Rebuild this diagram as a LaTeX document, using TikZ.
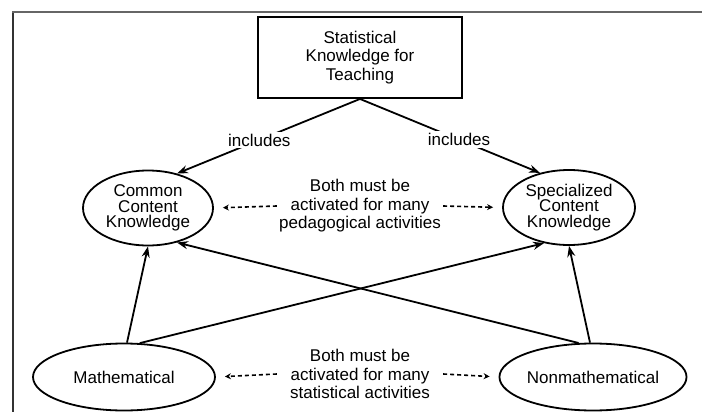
\documentclass[tikz,border=0pt]{standalone}
\usepackage{fontspec}
\setmainfont{Liberation Sans}
\usetikzlibrary{shapes.geometric,arrows.meta}
\begin{document}
\begin{tikzpicture}[x=1pt,y=-1pt,
	every node/.style={font=\fontsize{17}{18.5}\selectfont, align=center},
	kbox/.style={draw, rectangle, line width=1.9pt, minimum width=204pt, minimum height=81pt},
	kcircle/.style={draw, ellipse, line width=1.8pt, inner sep=0pt, font=\fontsize{17}{15.5}\selectfont},
	arr/.style={-{Stealth[length=11pt,width=8pt]}, line width=1.8pt},
	darr/.style={-{Stealth[length=6pt,width=6pt]}, line width=1.6pt, dash pattern=on 4pt off 3pt, shorten >=9pt}]
			\useasboundingbox (0,0) rectangle (702,412);
			\draw[line width=1.4pt, black!80] (13,412) -- (13,12);
			\draw[line width=1.6pt, black!60] (12.3,12) -- (702,12);
			\node	(skt) at (360,57.5) [kbox] {Statistical\\Knowledge for\\Teaching};
			\node	(cck) at (148,208) [kcircle, minimum width=130pt, minimum height=75pt] {Common\\Content\\Knowledge};
			\node	(sck) at (569,207.5) [kcircle, minimum width=132pt, minimum height=75pt] {Specialized\\Content\\Knowledge};
			\node	(math) at (124,377) [kcircle, minimum width=182pt, minimum height=67pt] {Mathematical};
			\node	(nonmath) at (593,377) [kcircle, minimum width=181pt, minimum height=67pt] {Nonmathematical};
			\node	(ped) at (360,206) [minimum width=166pt, inner sep=0pt] {Both must be\\activated for many\\pedagogical activities};
			\node	(stat) at (360,374) [minimum width=166pt, inner sep=0pt] {Both must be\\activated for many\\statistical activities};
			\draw 
			(skt.south) edge[arr] node[pos=0.55, fill=white, inner sep=2pt] {includes} (cck.50)
			(skt.south) edge[arr] node[pos=0.55, fill=white, inner sep=2pt] {includes} (sck.130)
			(math.85) edge[arr] (cck.south)
			(math.65) edge[arr] (sck.235)
			(nonmath.113) edge[arr] (cck.-50)
			(nonmath.95) edge[arr] (sck.south)
			(ped.west) edge[darr] (cck.east)
			(ped.east) edge[darr] (sck.west)
			(stat.west) edge[darr] (math.east)
			(stat.east) edge[darr] (nonmath.west)
			
			;
		\end{tikzpicture}
\end{document}
